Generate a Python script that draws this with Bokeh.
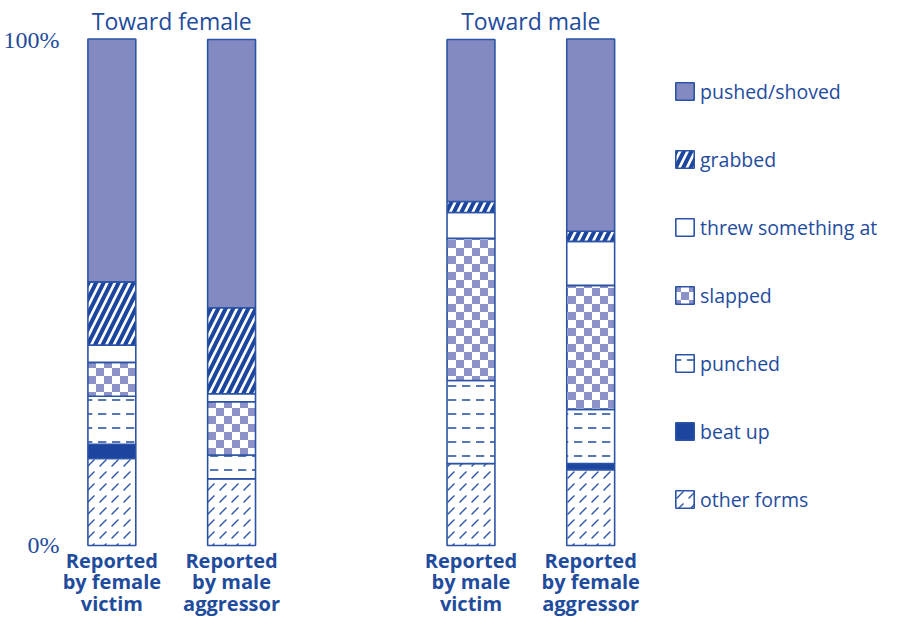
import base64
from bokeh.plotting import figure
from bokeh.models import (Range1d, FixedTicker, Label, Legend, LegendItem,
                          ColumnDataSource, ImageURLTexture)
from bokeh.transform import stack
from bokeh.core.properties import value
from bokeh.embed import file_html
from bokeh.resources import INLINE

# ---------------- data ----------------
groups = ["Toward female", "Toward male"]
bar_labels = ["Reported\nby female\nvictim", "Reported\nby male\naggressor",
              "Reported\nby male\nvictim", "Reported\nby female\naggressor"]
bar_group = [0, 0, 1, 1]
# stack order: bottom to top
categories = ["other forms", "beat up", "punched", "slapped",
              "threw something at", "grabbed", "pushed/shoved"]
other_forms = [17.2, 13.2, 16.2, 15.0]
beat_up = [2.8, 0.0, 0.0, 1.2]
punched = [9.5, 4.7, 16.4, 10.7]
slapped = [6.7, 10.5, 28.1, 24.5]
threw = [3.4, 1.6, 5.1, 8.7]
grabbed = [12.5, 17.0, 2.2, 2.0]
pushed = [48.0, 53.0, 32.0, 38.0]
y_ticks = [0, 100]
y_tick_labels = ["0%", "100%"]

series = [other_forms, beat_up, punched, slapped, threw, grabbed, pushed]

# ---------------- styles ----------------
BLUE = "#1f4c9d"
LINE = "#2c54a6"
LILAC = "#8389c1"
DARK = "#1b459e"
CHECK = "#8c91c7"

svg_tile = (
    "<svg xmlns='http://www.w3.org/2000/svg' width='16' height='16'>"
    "<rect width='16' height='16' fill='white'/>"
    f"<rect width='8' height='8' fill='{CHECK}'/>"
    f"<rect x='8' y='8' width='8' height='8' fill='{CHECK}'/>"
    "</svg>"
)
checker = ImageURLTexture(
    url="data:image/svg+xml;base64," + base64.b64encode(svg_tile.encode()).decode())

styles = [
    dict(fill_color="white", hatch_pattern=",", hatch_color=LINE, hatch_scale=12, hatch_weight=1.3),
    dict(fill_color=DARK),
    dict(fill_color="white", hatch_pattern='"', hatch_color=LINE, hatch_scale=14, hatch_weight=1.6),
    dict(fill_color="white", hatch_pattern=value("checker"), hatch_extra={"checker": checker}),
    dict(fill_color="white"),
    dict(fill_color="white", hatch_pattern="/", hatch_color=DARK, hatch_scale=15, hatch_weight=4),
    dict(fill_color=LILAC),
]

# x positions: two groups of two bars with a gap of one slot
within = []
counts = {}
for g in bar_group:
    within.append(counts.get(g, 0))
    counts[g] = counts.get(g, 0) + 1
xs = [g * 3 + i for g, i in zip(bar_group, within)]

cols = [f"c{i}" for i in range(len(series))]
data = {"x": xs, "label": bar_labels}
for c, s in zip(cols, series):
    data[c] = s
source = ColumnDataSource(data)

p = figure(width=883, height=617, output_backend="svg", toolbar_location=None,
           x_range=Range1d(-0.429, 6.446), y_range=Range1d(-14.23, 107.71),
           min_border_left=58, min_border_right=0, min_border_top=0, min_border_bottom=0)
p.outline_line_color = None
p.xgrid.visible = False
p.ygrid.visible = False
p.background_fill_color = "white"
p.xaxis.visible = False

renderers = []
for i, (c, st) in enumerate(zip(cols, styles)):
    r = p.vbar(x="x", width=0.4, bottom=stack(*cols[:i]), top=stack(*cols[:i + 1]),
               source=source, line_color=LINE, line_width=1.6, **st)
    renderers.append(r)

# category labels under the bars
p.text(x="x", y=-0.2, text="label", source=source, text_align="center",
       text_baseline="top", text_font=value("Open Sans"), text_font_style="bold",
       text_font_size="20px", text_line_height=0.81, text_color=BLUE)

# y axis
p.yaxis.ticker = FixedTicker(ticks=y_ticks)
p.yaxis.major_label_overrides = {t: l for t, l in zip(y_ticks, y_tick_labels)}
p.yaxis.axis_line_color = None
p.yaxis.major_tick_line_color = None
p.yaxis.minor_tick_line_color = None
p.yaxis.major_label_text_font = "Liberation Serif"
p.yaxis.major_label_text_font_size = "24px"
p.yaxis.major_label_text_color = BLUE
p.yaxis.major_label_standoff = -5

# group titles
for gi, gname in enumerate(groups):
    gx = [x for x, g in zip(xs, bar_group) if g == gi]
    p.add_layout(Label(x=sum(gx) / len(gx), y=103.75, text=gname, text_align="center",
                       text_baseline="alphabetic", text_font="Open Sans",
                       text_font_size="23px", text_color=BLUE))

# legend (top to bottom)
items = [LegendItem(label=cat, renderers=[r]) for cat, r in zip(categories, renderers)][::-1]
legend = Legend(items=items, location=(613, 104), padding=0, margin=0,
                border_line_color=None, background_fill_alpha=0,
                glyph_width=23, glyph_height=22, label_height=28, spacing=40,
                label_standoff=4, label_text_font="Open Sans", label_text_font_size="19.5px",
                label_text_color=BLUE)
p.add_layout(legend)

open("out.html", "w").write(file_html(p, INLINE))
